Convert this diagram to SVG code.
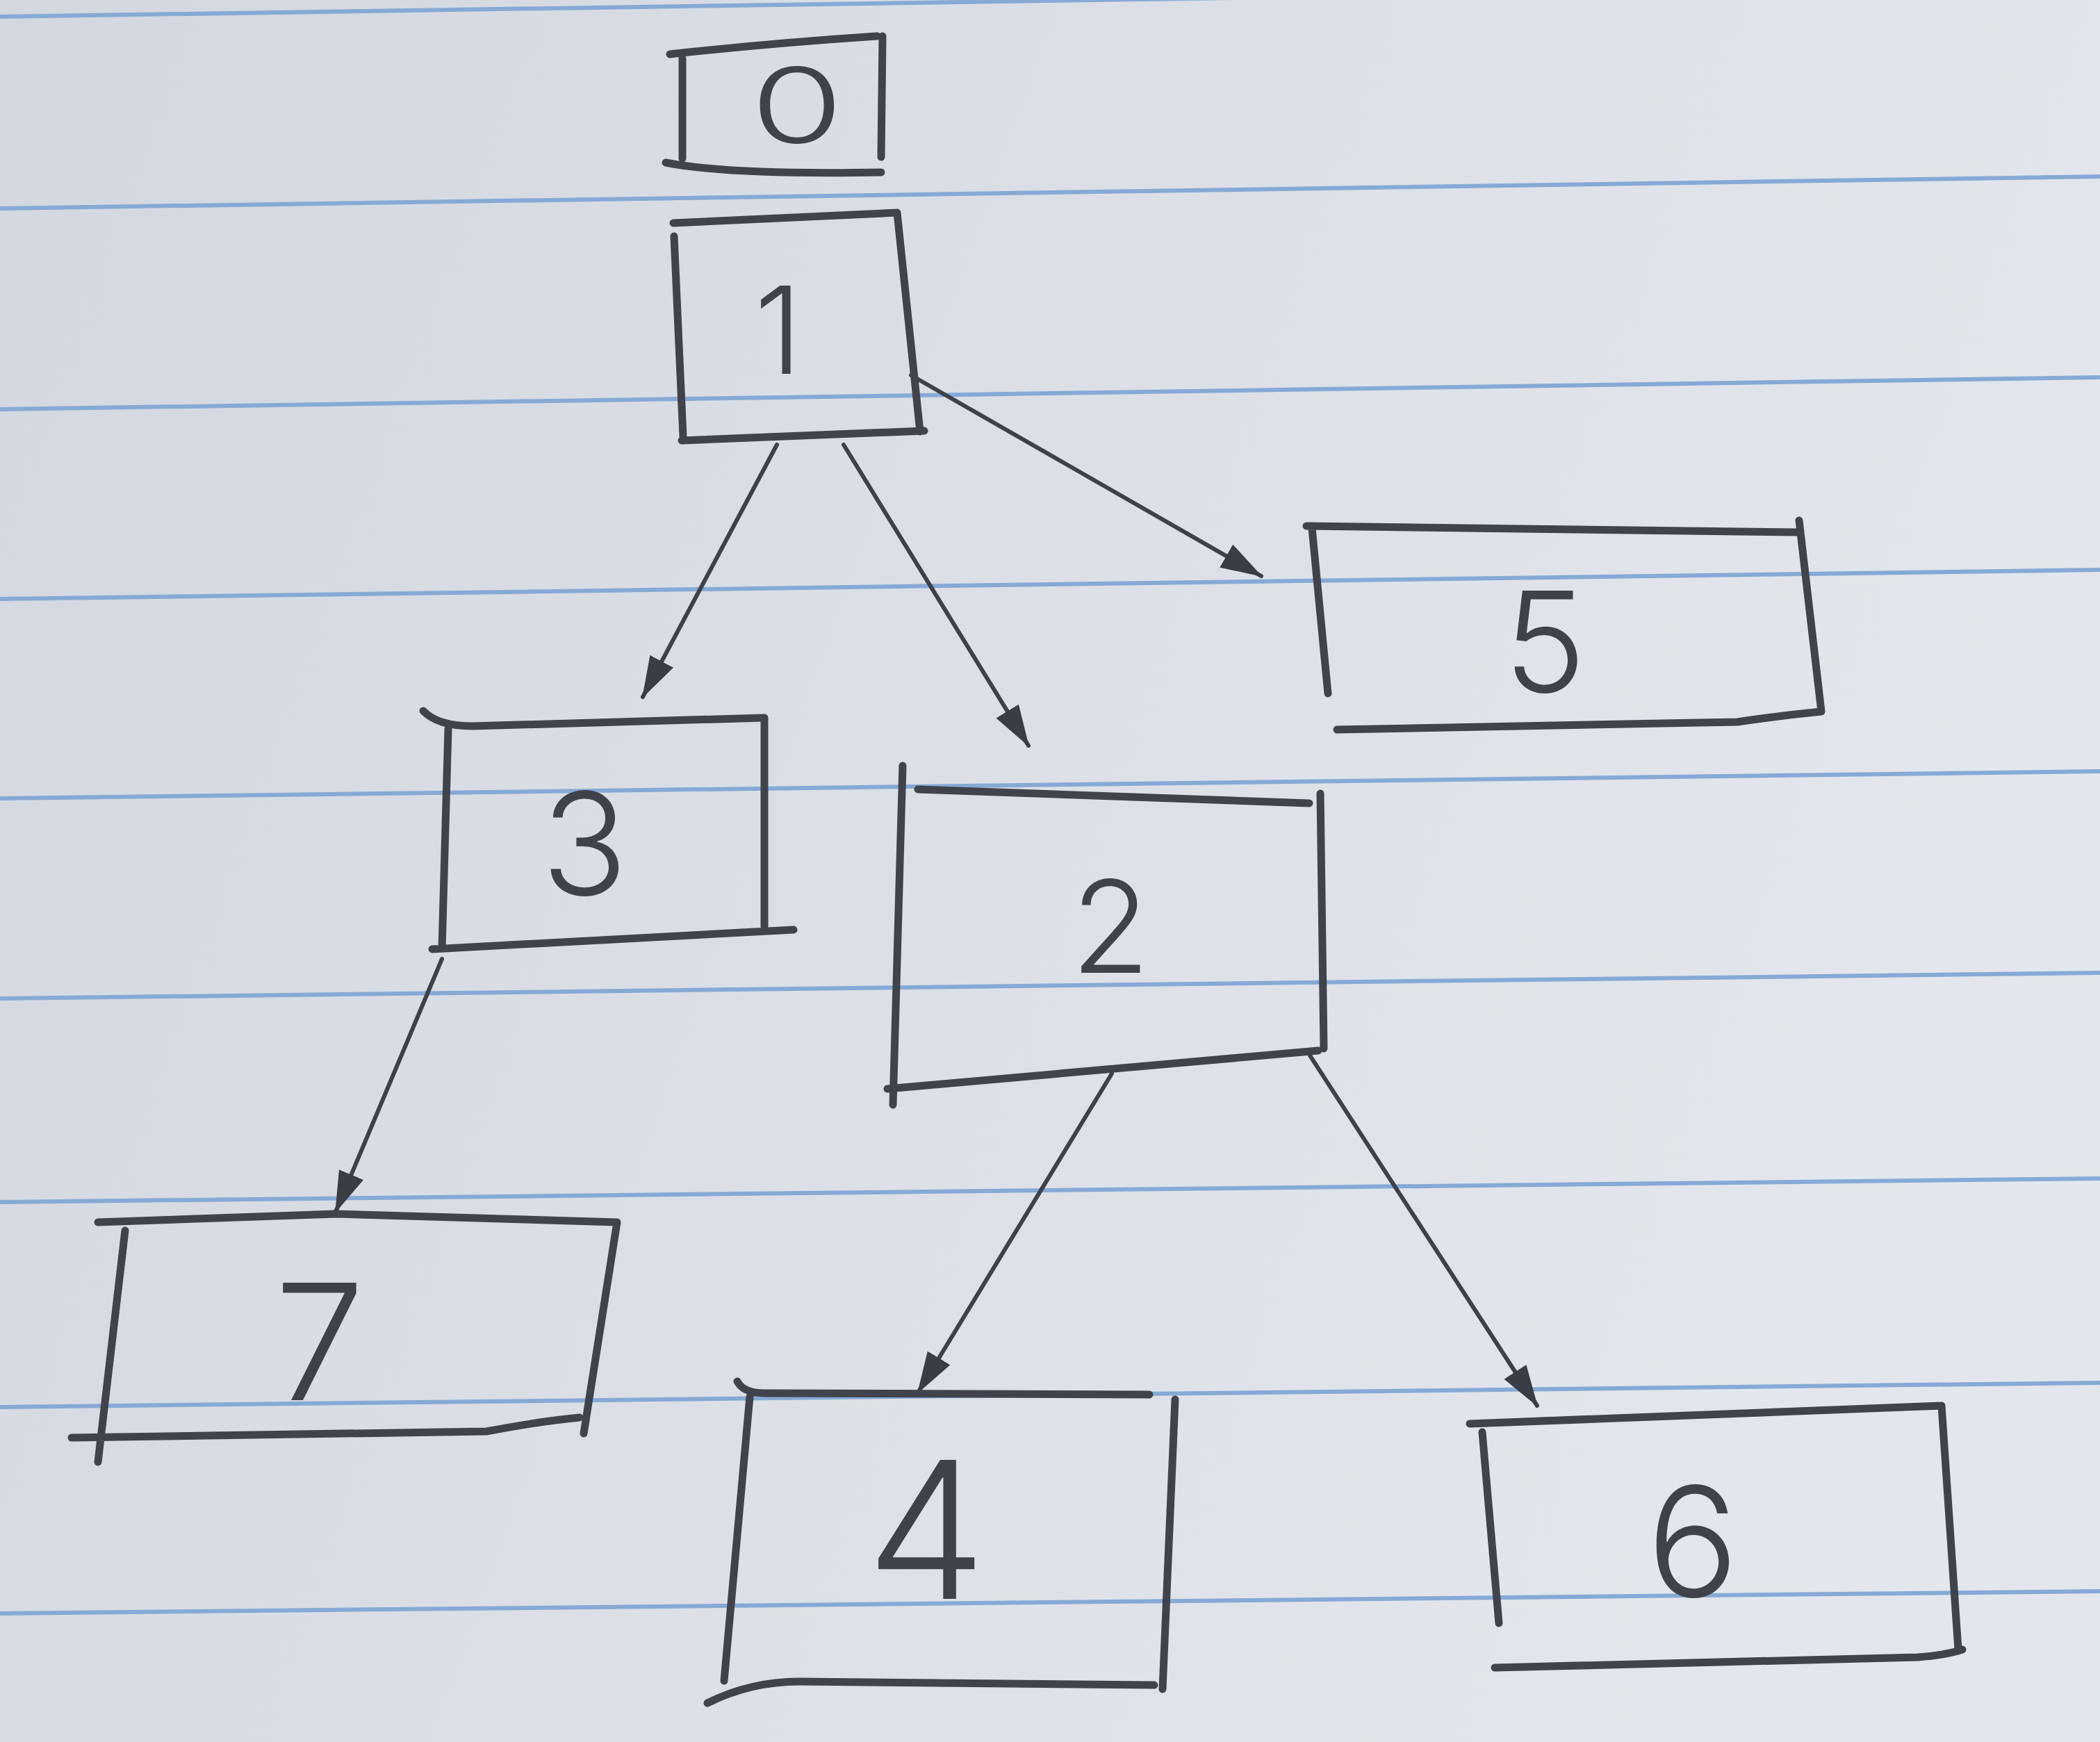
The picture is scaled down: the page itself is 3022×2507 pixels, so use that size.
<svg xmlns="http://www.w3.org/2000/svg" width="3022" height="2507" viewBox="0 0 3022 2507">
<defs>
<linearGradient id="paper" x1="0" y1="0" x2="1" y2="0.3">
<stop offset="0" stop-color="#d3d7df"/>
<stop offset="0.6" stop-color="#dde0e7"/>
<stop offset="1" stop-color="#e3e6ec"/>
</linearGradient>
<marker id="ah" markerUnits="userSpaceOnUse" markerWidth="60" markerHeight="50" viewBox="0 0 60 50" refX="58" refY="25" orient="auto">
<path d="M0,6 L60,25 L0,44 z" fill="#3a3d45"/>
</marker>
<style>
.rule{stroke:#86a9d6;stroke-width:6;fill:none}
.box{stroke:#40434b;stroke-width:11;fill:none;stroke-linecap:round;stroke-linejoin:round}
.edge{stroke:#3e4149;stroke-width:6;fill:none;stroke-linecap:round}
.lbl{font-family:"Inter","Lato","DejaVu Sans",sans-serif;font-weight:300;fill:#3f424a;text-anchor:middle}
</style>
</defs>
<rect x="0" y="0" width="3022" height="2507" fill="url(#paper)"/>
<g id="rules">
<line class="rule" x1="0" y1="24" x2="3022" y2="-22"/>
<line class="rule" x1="0" y1="300" x2="3022" y2="254"/>
<line class="rule" x1="0" y1="589" x2="3022" y2="543"/>
<line class="rule" x1="0" y1="862" x2="3022" y2="820"/>
<line class="rule" x1="0" y1="1149" x2="3022" y2="1110"/>
<line class="rule" x1="0" y1="1437" x2="3022" y2="1400"/>
<line class="rule" x1="0" y1="1730" x2="3022" y2="1696"/>
<line class="rule" x1="0" y1="2025" x2="3022" y2="1990"/>
<line class="rule" x1="0" y1="2322" x2="3022" y2="2290"/>
</g>
<g id="connectors">
<path id="e1-3" class="edge" d="M1118,640 L925,1003" marker-end="url(#ah)"/>
<path id="e1-2" class="edge" d="M1214,640 L1480,1073" marker-end="url(#ah)"/>
<path id="e1-5" class="edge" d="M1311,540 L1815,829" marker-end="url(#ah)"/>
<path id="e3-7" class="edge" d="M636,1380 L483,1744" marker-end="url(#ah)"/>
<path id="e2-4" class="edge" d="M1600,1545 L1321,2004" marker-end="url(#ah)"/>
<path id="e2-6" class="edge" d="M1885,1519 L2212,2023" marker-end="url(#ah)"/>
</g>
<g id="node0">
<path class="box" d="M964,78 Q1110,62 1262,52 M982,84 L982,228 M1270,52 L1268,226 M958,234 Q1050,252 1268,248"/>
<text class="lbl" transform="translate(1147 206) scale(1.45 1)" x="0" y="0" font-size="150">0</text>
</g>
<g id="node1">
<path class="box" d="M969,321 L1291,306 M970,340 L983,628 M1291,306 L1324,621 M981,634 L1330,620"/>
<text class="lbl" x="1120" y="538" font-size="175">1</text>
</g>
<g id="node5">
<path class="box" d="M1880,757 L2589,766 M1888,760 L1911,998 M2589,749 L2621,1024 M1924,1050 L2500,1039 Q2560,1030 2621,1024"/>
<text class="lbl" x="2223" y="996" font-size="200">5</text>
</g>
<g id="node3">
<path class="box" d="M609,1023 Q630,1045 680,1045 L1100,1033 M645,1049 L636,1365 M1100,1033 L1100,1333 M622,1366 L1142,1338"/>
<text class="lbl" x="841" y="1288" font-size="205">3</text>
</g>
<g id="node2">
<path class="box" d="M1299,1102 L1285,1590 M1321,1136 L1884,1156 M1900,1142 L1905,1509 M1277,1567 L1897,1512"/>
<text class="lbl" x="1598" y="1400" font-size="185">2</text>
</g>
<g id="node7">
<path class="box" d="M141,1759 L483,1747 L888,1759 M180,1771 L141,2104 M888,1759 L840,2063 M103,2069 L700,2060 Q780,2045 834,2040"/>
<text class="lbl" x="460" y="2015" font-size="232">7</text>
</g>
<g id="node4">
<path class="box" d="M1061,1988 Q1070,2005 1100,2005 L1654,2007 M1079,2010 L1042,2419 M1691,2014 L1673,2431 M1018,2451 Q1080,2420 1150,2420 L1661,2425"/>
<text class="lbl" x="1333" y="2301" font-size="275">4</text>
</g>
<g id="node6">
<path class="box" d="M2115,2049 L2794,2023 M2133,2061 L2157,2336 M2794,2023 L2818,2374 M2151,2400 L2760,2385 Q2800,2382 2824,2374"/>
<text class="lbl" x="2436" y="2298" font-size="220">6</text>
</g>
</svg>
